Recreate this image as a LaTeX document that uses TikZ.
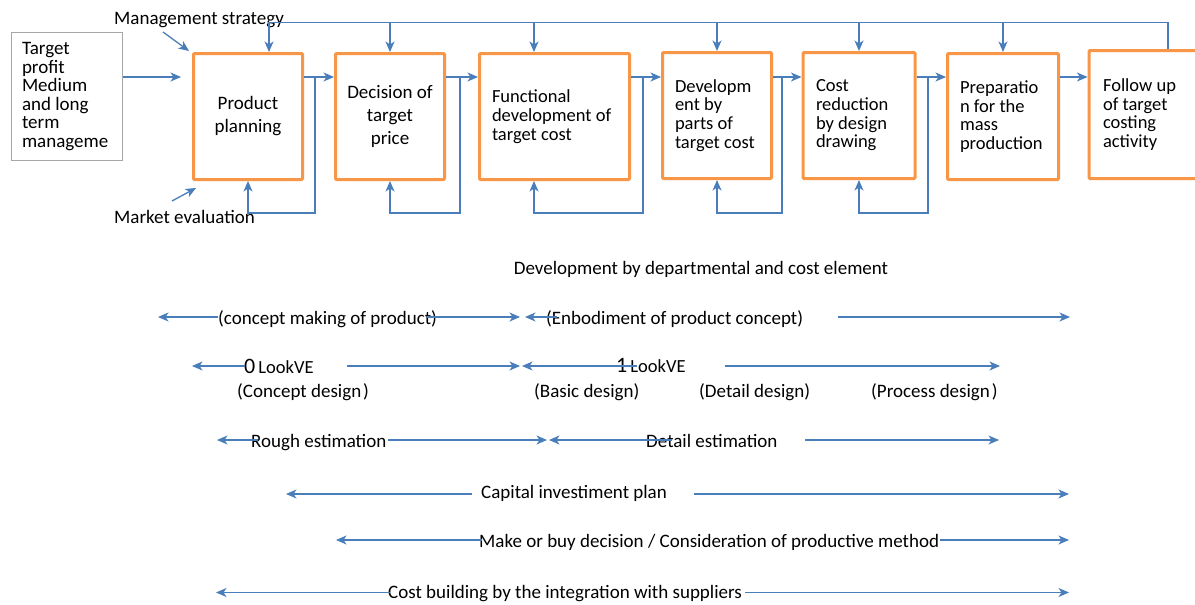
\documentclass[tikz,border=0pt]{standalone}
\usepackage{fontspec}
\setmainfont{Carlito}
\usetikzlibrary{arrows.meta}
\definecolor{lblue}{HTML}{4A7EBB}
\definecolor{borange}{HTML}{F79646}
\definecolor{bgray}{HTML}{A6A6A6}
\begin{document}
\begin{tikzpicture}[x=1pt,y=-1pt,
 lbl/.style={inner sep=0pt, font=\fontsize{19}{23}\selectfont},
 obox/.style={draw=borange, line width=3pt, minimum height=126pt, inner sep=0pt, rounded corners=1pt, font=\fontsize{19}{23}\selectfont},
 ltext/.style={align=flush left, font=\fontsize{18.5}{18.7}\selectfont},
 conn/.style={draw=lblue, line width=1.3pt},
 arr/.style={conn, -{Stealth[length=10.5pt,width=9pt,inset=3pt]}},
]
\useasboundingbox[fill=white] (0,0) rectangle (1195,605);

% ---- boxes ----
\node[draw=bgray, line width=1pt, minimum width=111pt, minimum height=128pt, text width=90pt, align=flush left, inner sep=0pt, font=\fontsize{19}{18.6}\selectfont] (tp) at (67,96.5) {Target\\profit\\Medium\\and long\\term\\manageme};
\node[obox, minimum width=109pt, align=center] (pp) at (248,116.5) {Product\\planning};
\node[obox, minimum width=109pt, align=center] (dp) at (390,116.5) {Decision of\\target\\price};
\node[obox, minimum width=150pt, ltext, text width=125pt] (fd) at (554.5,116.5) {Functional\\development of\\target cost};
\node[obox, minimum width=109pt, ltext, text width=84pt] (dv) at (717,115.5) {Developm\\ent by\\parts of\\target cost};
\node[obox, minimum width=112pt, ltext, text width=86pt] (cr) at (859,115.5) {Cost\\reduction\\by design\\drawing};
\node[obox, minimum width=111pt, ltext, text width=86pt] (pm) at (1003,116.5) {Preparatio\\n for the\\mass\\production};
\node[obox, minimum width=116pt, minimum height=128pt, ltext, text width=88pt] (fu) at (1147,114.5) {Follow up\\of target\\costing\\activity};

% ---- side labels ----
\node[lbl, anchor=base west] (ms) at (114,24) {Management strategy};
\node[lbl, anchor=base west] (me) at (114,223) {Market evaluation};
\coordinate (ms1) at (163,32); \coordinate (ms2) at (189,51);
\draw[arr] (ms1) -- (ms2);
\coordinate (me1) at (172,201); \coordinate (me2) at (196,188);
\draw[arr] (me1) -- (me2);

% ---- flow arrows ----
\coordinate (rowy) at (0,77);
\coordinate (tpend) at (181,77);
\draw[arr] (tp.east |- rowy) -- (tpend);
\draw[arr] (pp.east |- rowy) -- (dp.west |- rowy);
\draw[arr] (dp.east |- rowy) -- (fd.west |- rowy);
\draw[arr] (fd.east |- rowy) -- (dv.west |- rowy);
\draw[arr] (dv.east |- rowy) -- (cr.west |- rowy);
\draw[arr] (cr.east |- rowy) -- (pm.west |- rowy);
\draw[arr] (pm.east |- rowy) -- (fu.west |- rowy);

% ---- feedback loops ----
\coordinate (f1) at (315,213);
\draw[arr] (f1 |- rowy) -- (f1) -| (pp.south);
\coordinate (f2) at (460,213);
\draw[arr] (f2 |- rowy) -- (f2) -| (dp.south);
\coordinate (f3) at (643,213); \coordinate (f3b) at (534,213);
\draw[arr] (f3 |- rowy) -- (f3) -- (f3b) -- (f3b |- fd.south);
\coordinate (f4) at (782,213);
\draw[arr] (f4 |- rowy) -- (f4) -| (dv.south);
\coordinate (f5) at (928,213);
\draw[arr] (f5 |- rowy) -- (f5) -| (cr.south);

% ---- top distribution line ----
\coordinate (t0) at (269,22.5); \coordinate (t7) at (1168,22.5); \coordinate (t3) at (534,22.5);
\draw[arr] (t7 |- fu.north) -- (t7) -- (t0) -- (t0 |- pp.north);
\draw[arr] (dp.north |- t0) -- (dp.north);
\draw[arr] (t3) -- (t3 |- fd.north);
\draw[arr] (dv.north |- t0) -- (dv.north);
\draw[arr] (cr.north |- t0) -- (cr.north);
\draw[arr] (pm.north |- t0) -- (pm.north);

% ---- lower section texts ----
\node[lbl, anchor=base] (dd) at (701,274) {Development by departmental and cost element};
\node[lbl, anchor=base west] (c1) at (218,324) {(concept making of product)};
\node[lbl, anchor=base west] (c2) at (546,324) {(Enbodiment of product concept)};
\node[lbl, anchor=base west] (v0) at (244,373) {{\fontsize{22}{22}\selectfont 0}\kern3pt{\fontsize{18.5}{18.5}\selectfont LookVE}};
\node[lbl, anchor=base west] (v1) at (616,372) {{\fontsize{22}{22}\selectfont 1}\kern3pt{\fontsize{18.5}{18.5}\selectfont LookVE}};
\node[lbl, anchor=base west] (d1) at (237,397) {(Concept design\kern2pt)};
\node[lbl, anchor=base west] (d2) at (534,397) {(Basic design)};
\node[lbl, anchor=base west] (d3) at (699,397) {(Detail design)};
\node[lbl, anchor=base west] (d4) at (871,397) {(Process design\kern2pt)};
\node[lbl, anchor=base west] (e1) at (251,447) {Rough estimation};
\node[lbl, anchor=base west] (e2) at (646,447) {Detail estimation};
\node[lbl, anchor=base west] (ci) at (481,498) {Capital investiment plan};
\node[lbl, anchor=base west] (mb) at (479,547) {Make or buy decision / Consideration of productive method};
\node[lbl, anchor=base west] (cb) at (388,598) {Cost building by the integration with suppliers};

% ---- lower section arrows ----
% row 1
\coordinate (r1a) at (218,317); \coordinate (r1b) at (158,317);
\coordinate (r1c) at (427,317); \coordinate (r1d) at (520,317);
\coordinate (r1e) at (557,317); \coordinate (r1f) at (525,317);
\coordinate (r1g) at (838,317); \coordinate (r1h) at (1070,317);
\draw[arr] (r1a) -- (r1b);
\draw[arr] (r1c) -- (r1d);
\draw[arr] (r1e) -- (r1f);
\draw[arr] (r1g) -- (r1h);
% row 2
\coordinate (r2a) at (245,366); \coordinate (r2b) at (192,366);
\coordinate (r2c) at (347,366); \coordinate (r2d) at (520,366);
\coordinate (r2e) at (637,366); \coordinate (r2f) at (522,366);
\coordinate (r2g) at (725,366); \coordinate (r2h) at (1000,366);
\draw[arr] (r2a) -- (r2b);
\draw[arr] (r2c) -- (r2d);
\draw[arr] (r2e) -- (r2f);
\draw[arr] (r2g) -- (r2h);
% row 3
\coordinate (r3a) at (258,440); \coordinate (r3b) at (217,440);
\coordinate (r3c) at (388,440); \coordinate (r3d) at (547,440);
\coordinate (r3e) at (672,440); \coordinate (r3f) at (549,440);
\coordinate (r3g) at (805,440); \coordinate (r3h) at (999,440);
\draw[arr] (r3a) -- (r3b);
\draw[arr] (r3c) -- (r3d);
\draw[arr] (r3e) -- (r3f);
\draw[arr] (r3g) -- (r3h);
% row 4
\coordinate (r4a) at (472,494); \coordinate (r4b) at (286,494);
\coordinate (r4c) at (694,494); \coordinate (r4d) at (1069,494);
\draw[arr] (r4a) -- (r4b);
\draw[arr] (r4c) -- (r4d);
% row 5
\coordinate (r5a) at (482,540); \coordinate (r5b) at (336,540);
\coordinate (r5c) at (940,540); \coordinate (r5d) at (1069,540);
\draw[arr] (r5a) -- (r5b);
\draw[arr] (r5c) -- (r5d);
% row 6
\coordinate (r6a) at (390,592.5); \coordinate (r6b) at (216,592.5);
\coordinate (r6c) at (745,592.5); \coordinate (r6d) at (1069,592.5);
\draw[arr] (r6a) -- (r6b);
\draw[arr] (r6c) -- (r6d);
\end{tikzpicture}
\end{document}
